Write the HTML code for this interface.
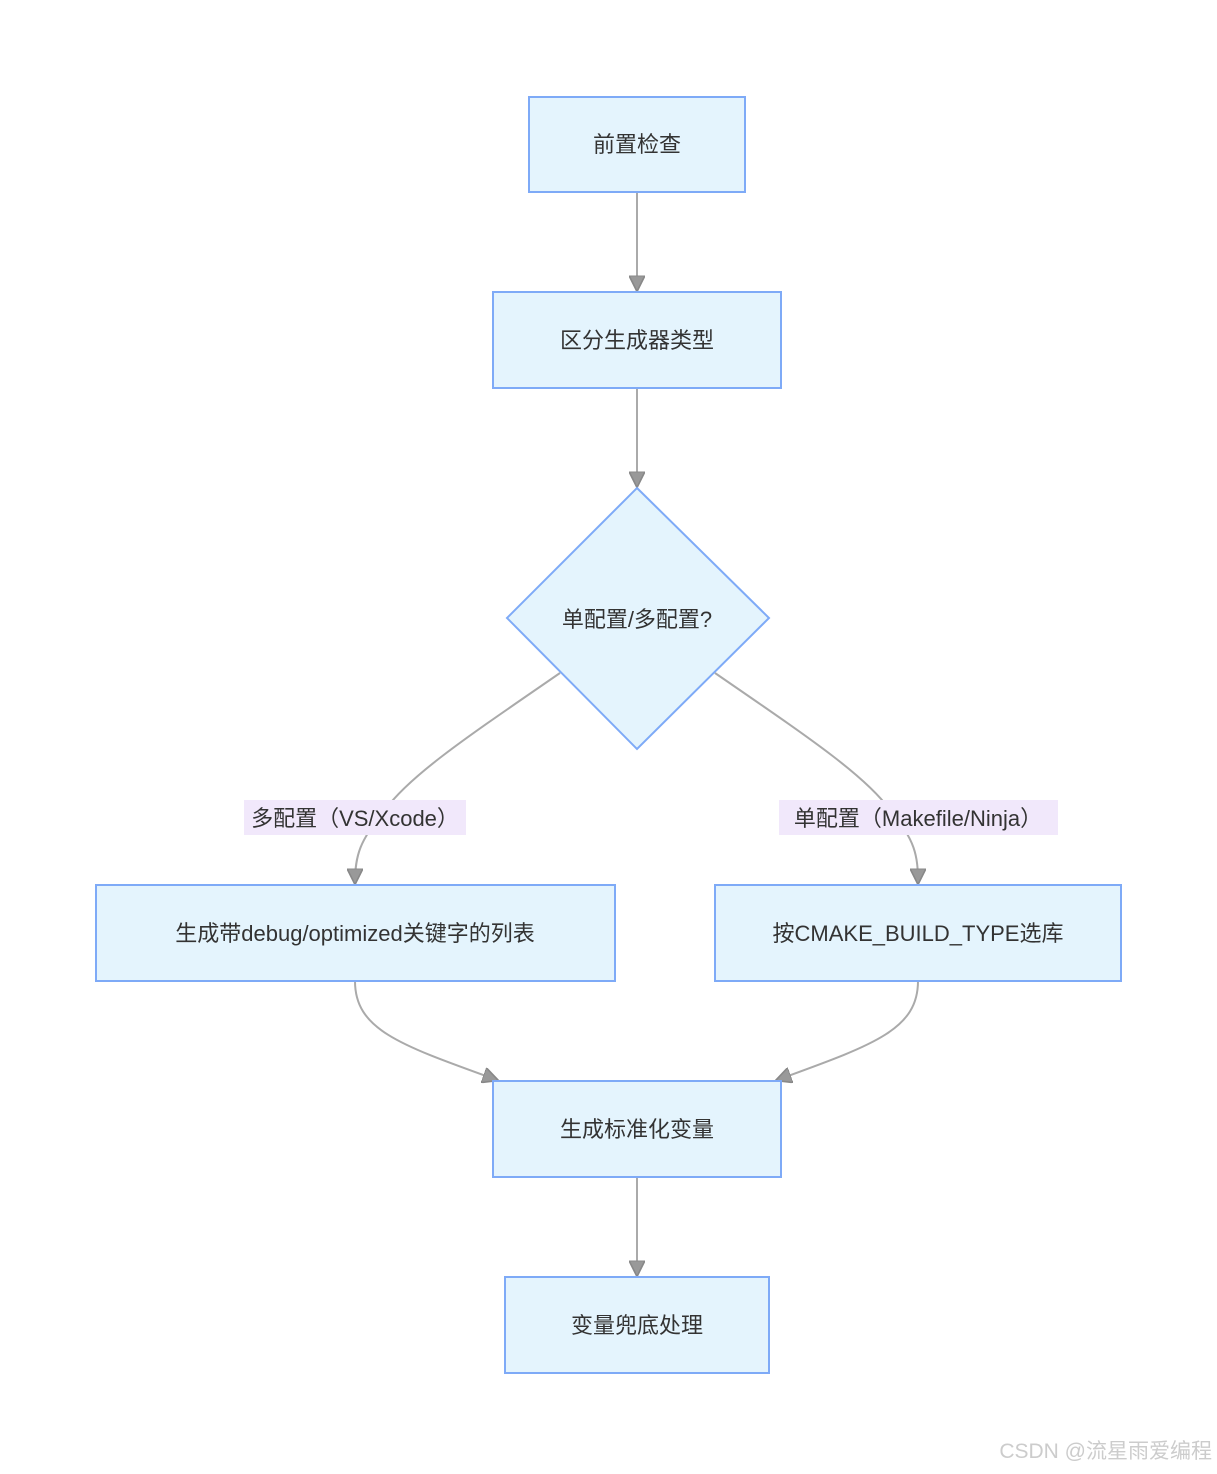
<!DOCTYPE html>
<html><head><meta charset="utf-8"><style>
html,body{margin:0;padding:0;background:#fff;}
svg text{font-family:"Liberation Sans","Noto Sans CJK SC",sans-serif;font-size:22px;fill:#333;}
</style></head><body>
<svg width="1217" height="1469" viewBox="0 0 1217 1469" xmlns="http://www.w3.org/2000/svg">
<defs><marker id="a" viewBox="0 0 10 10" refX="9" refY="5" markerWidth="8" markerHeight="8" orient="auto"><path d="M0,0L10,5L0,10z" fill="#999" stroke="#888"/></marker></defs>
<g fill="none" stroke="#aaa" stroke-width="2">
<path d="M637,192V290" marker-end="url(#a)"/>
<path d="M637,388V486" marker-end="url(#a)"/>
<path d="M560,673C470,735 410,775 385,810C360,840 355,855 355,883" marker-end="url(#a)"/>
<path d="M715,673C805,735 865,775 890,810C915,840 918,855 918,883" marker-end="url(#a)"/>
<path d="M355,981C355,1030 400,1045 497,1080" marker-end="url(#a)"/>
<path d="M918,981C918,1030 873,1045 777,1080" marker-end="url(#a)"/>
<path d="M637,1177V1275" marker-end="url(#a)"/>
</g>
<g fill="#e4f4fd" stroke="#7eaaf7" stroke-width="2">
<rect x="529" y="97" width="216" height="95"/>
<rect x="493" y="292" width="288" height="96"/>
<path d="M637,488L769,618L637,749L507,618Z"/>
<rect x="96" y="885" width="519" height="96"/>
<rect x="715" y="885" width="406" height="96"/>
<rect x="493" y="1081" width="288" height="96"/>
<rect x="505" y="1277" width="264" height="96"/>
</g>
<rect x="244" y="800" width="222" height="35" fill="#f1e8fb"/>
<rect x="779" y="800" width="279" height="35" fill="#f1e8fb"/>
<g text-anchor="middle">
<text x="637" y="152">前置检查</text>
<text x="637" y="348">区分生成器类型</text>
<text x="637" y="627">单配置/多配置?</text>
<text x="355" y="826">多配置（VS/Xcode）</text>
<text x="918" y="826">单配置（Makefile/Ninja）</text>
<text x="355" y="941">生成带debug/optimized关键字的列表</text>
<text x="918" y="941">按CMAKE_BUILD_TYPE选库</text>
<text x="637" y="1137">生成标准化变量</text>
<text x="637" y="1333">变量兜底处理</text>
</g>
<text x="1212" y="1458" text-anchor="end" style="fill:#ccc;font-size:21px">CSDN @流星雨爱编程</text>
</svg>
</body></html>
